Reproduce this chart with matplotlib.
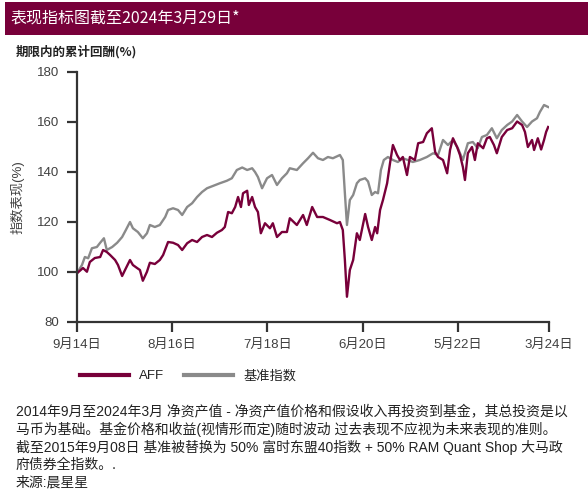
import matplotlib
matplotlib.use("Agg")
import matplotlib.pyplot as plt
from matplotlib.lines import Line2D
from matplotlib.patches import Rectangle

plt.rcParams['font.family'] = ['Liberation Sans', 'Noto Sans CJK SC', 'DejaVu Sans']

# ---- data (months since Sep 2014, cumulative index %) ----
aff_months = [0, 1.45, 2.4, 3.1, 4.3, 5.6, 6.3, 7.2, 8.0, 9.2, 9.9, 10.9, 11.6, 12.8, 13.5, 14.5,
              15.2, 15.9, 16.9, 17.6, 18.8, 20.0, 20.8, 22.0, 23.2, 24.4, 25.4, 26.6, 27.8, 29.0,
              30.2, 31.4, 32.6, 33.8, 35.0, 35.7, 36.5, 37.4, 38.2, 38.9, 39.6, 40.1, 41.1, 41.5,
              42.3, 43.0, 43.7, 44.4, 45.4, 46.6, 47.3, 48.3, 49.5, 50.7, 51.4, 53.1, 54.6, 55.5,
              56.8, 58.0, 59.4, 61.1, 62.8, 63.5, 64.2, 64.7, 65.2, 65.9, 66.7, 67.6, 68.3, 69.6,
              70.3, 71.2, 72.0, 72.5, 73.2, 73.9, 74.9, 75.6, 76.3, 77.3, 78.0, 78.7, 79.7, 80.4,
              81.6, 82.4, 83.6, 84.5, 85.7, 86.5, 87.2, 88.4, 89.4, 90.1, 90.8, 91.8, 92.5, 93.2,
              93.7, 94.4, 95.4, 96.1, 96.8, 98.1, 99.0, 99.7, 100.7, 101.4, 102.6, 103.9, 105.1,
              106.3, 107.5, 108.2, 108.9, 109.9, 110.4, 111.3, 112.1, 112.8, 113.3, 113.8]
aff_values = [99.5, 101.6, 100.1, 104, 105.6, 106, 108.8, 108, 106.8, 104.8, 102.8, 98.4, 100.8,
              104.8, 102.8, 101.6, 100.8, 96.5, 100.1, 103.7, 103.2, 104.8, 106.8, 112, 111.7,
              110.8, 108.8, 111.5, 112.8, 112, 114, 114.8, 114, 115.7, 116.8, 118, 124, 123.5, 126,
              130, 126, 131.5, 132.5, 126.8, 130, 126, 124, 115.5, 119.5, 117.5, 119.5, 114, 116,
              116, 121.5, 118.8, 122.8, 118.8, 126, 122, 122, 120.8, 119.5, 120, 116.8, 104.8, 90.1,
              100.8, 104.8, 115.5, 112.8, 123.2, 118, 112.8, 118, 115.5, 124.8, 128.8, 135.5, 143.5,
              150.8, 146.8, 144.8, 146, 138.8, 146, 144.8, 151.5, 152, 155.5, 157.5, 148, 146, 144.8,
              139.5, 148.8, 153.5, 150, 146.8, 142, 136.8, 147.5, 150, 144.8, 151.5, 149.5, 153.5,
              154, 150.8, 147.5, 154, 156.8, 157.5, 160.2, 158.8, 156, 150, 152.8, 148.8, 153.5, 149,
              152.8, 156, 158]

bench_months = [0, 1.2, 1.9, 2.7, 3.6, 4.8, 5.6, 6.5, 7.2, 8.5, 9.7, 10.9, 11.8, 12.8, 13.5, 14.7,
                15.9, 16.9, 17.6, 18.8, 20.0, 21.3, 22.0, 23.2, 24.4, 25.4, 26.6, 27.8, 29.0, 30.2,
                31.4, 32.8, 34.5, 36.2, 37.4, 38.6, 39.9, 41.1, 42.3, 43.0, 43.7, 44.7, 45.9, 47.1,
                48.3, 49.5, 50.7, 51.4, 53.1, 54.6, 55.8, 57.0, 58.2, 59.4, 60.6, 61.8, 63.5, 64.2,
                64.7, 65.2, 65.9, 66.7, 67.6, 68.3, 69.6, 70.3, 71.2, 72.0, 72.7, 73.4, 74.1, 75.1,
                76.3, 77.5, 78.7, 79.9, 81.1, 82.8, 84.5, 86.0, 87.2, 88.4, 89.6, 90.8, 92.0, 93.2,
                94.4, 95.6, 96.8, 97.8, 99.0, 100.2, 101.4, 102.6, 103.9, 105.1, 106.3, 107.5, 108.7,
                109.9, 111.1, 111.8, 112.8, 113.8]
bench_values = [99.5, 102.8, 106, 105.5, 109.5, 110, 111.7, 113.5, 108.8, 110, 111.7, 114, 116.8,
                120, 117.5, 116, 113.5, 115.5, 118.8, 118, 118.8, 122, 124.8, 125.5, 124.8, 122.8,
                126, 127.5, 130, 132, 133.5, 134.4, 135.5, 136.5, 137.5, 140.8, 141.8, 140.8, 141.5,
                140, 138, 133.5, 137.5, 138.8, 134.8, 137.5, 139.5, 141.5, 140.8, 143.5, 145.5, 147.7,
                145.5, 144.8, 146, 145.5, 146.8, 144.8, 131.5, 118.8, 128.8, 130.8, 135.5, 136.8,
                137.5, 136.2, 130.8, 132, 131.5, 140.8, 144.8, 146, 144.8, 144, 145.5, 144.8, 144,
                144.8, 146, 147.5, 146.8, 152.8, 150.8, 152.8, 149.5, 144.8, 151.5, 152, 149.5, 154,
                154.8, 157.5, 153.5, 156.8, 158.8, 160.2, 162.8, 160.2, 158, 160.2, 161.5, 164, 166.8,
                166]

tick_months = [0, 23, 46, 69, 92, 114]
tick_labels = ['9月14日', '8月16日', '7月18日', '6月20日', '5月22日', '3月24日']
y_ticks = [80, 100, 120, 140, 160, 180]

series_names = ['AFF', '基准指数']
maroon = '#78003a'
grey = '#8a8a8a'
axis_col = '#333333'
text_col = '#404040'

W, H = 588, 496
fig = plt.figure(figsize=(W / 100, H / 100), dpi=100)

# title bar
fig.patches.append(Rectangle((5 / W, 1 - 35 / H), 1 - 5 / W, 33 / H,
                             transform=fig.transFigure, facecolor=maroon,
                             edgecolor='none', zorder=0))
fig.text(10 / W, 1 - 18.5 / H, '表现指标图截至2024年3月29日*', color='white',
         fontsize=11.5, va='center', ha='left',
         family=['Noto Sans CJK SC', 'DejaVu Sans'])
fig.text(16 / W, 1 - 52 / H, '期限内的累计回酬(%)', color='#222222', fontsize=9,
         fontweight='bold', va='center', ha='left',
         family=['Noto Sans CJK SC', 'DejaVu Sans'])

ax = fig.add_axes([77 / W, 1 - 322 / H, 472 / W, 250 / H])
ax.plot(bench_months, bench_values, color=grey, lw=1.7, solid_joinstyle='round')
ax.plot(aff_months, aff_values, color=maroon, lw=1.7, solid_joinstyle='round')

ax.set_xlim(0, 114)
ax.set_ylim(80, 180)
ax.set_xticks(tick_months)
ax.set_xticklabels(tick_labels)
ax.set_yticks(y_ticks)
for s in ['top', 'right']:
    ax.spines[s].set_visible(False)
for s in ['left', 'bottom']:
    ax.spines[s].set_color(axis_col)
    ax.spines[s].set_linewidth(1.6)
ax.tick_params(axis='both', colors=axis_col, length=7, width=1.6, labelsize=9.5,
               labelcolor=text_col)
ax.tick_params(axis='x', pad=5)
ax.tick_params(axis='y', pad=6)
ax.set_ylabel('指数表现(%)', fontsize=9.5, color=text_col, labelpad=9)

handles = [Line2D([], [], color=maroon, lw=3), Line2D([], [], color=grey, lw=3)]
fig.legend(handles, series_names, loc='center left',
           bbox_to_anchor=(68 / W, 1 - 376 / H), ncol=2, frameon=False,
           fontsize=9.5, handlelength=3.7, handletextpad=0.8, columnspacing=1.5,
           labelcolor='#222222')

notes = [
    '2014年9月至2024年3月 净资产值 - 净资产值价格和假设收入再投资到基金，其总投资是以',
    '马币为基础。基金价格和收益(视情形而定)随时波动 过去表现不应视为未来表现的准则。',
    '截至2015年9月08日 基准被替换为 50% 富时东盟40指数 + 50% RAM Quant Shop 大马政',
    '府债券全指数。.',
    '来源:晨星星',
]
for i, line in enumerate(notes):
    fig.text(16 / W, 1 - (412 + 17.5 * i) / H, line, fontsize=10, color='#222222',
             va='center', ha='left')

fig.savefig('out.png', dpi=100)
